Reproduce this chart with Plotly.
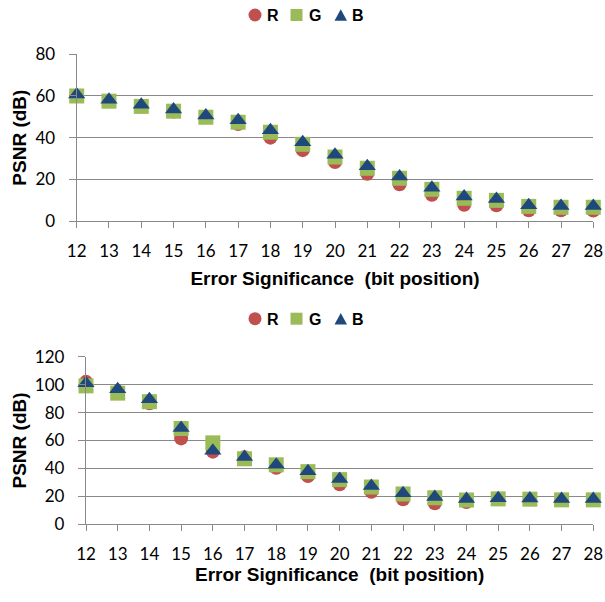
import plotly.graph_objects as go

bits = list(range(12, 29))
tick_labels = [str(b) for b in bits]

# Top chart PSNR (dB)
top_R = [60, 57.5, 55, 52.5, 49.8, 46.5, 40, 34, 28.3, 22.7, 17.6, 12.6, 7.8, 7.5, 5.1, 5.1, 5.0]
top_G = [60, 57.5, 55, 52.7, 49.8, 47.4, 42.6, 36.8, 30.7, 25.3, 20.5, 15.2, 10.9, 9.9, 7.0, 6.6, 6.6]
top_B = [60.7, 58.2, 55.8, 53.5, 50.6, 48.3, 43.6, 37.8, 31.8, 26.3, 21.3, 16.0, 11.8, 10.6, 7.6, 7.2, 7.2]

# Bottom chart PSNR (dB)
bot_R = [102, 95, 86.6, 61.5, 52, 48, 40.5, 34.6, 28.6, 23.3, 17.9, 15, 16, 18, 18, 17.5, 17.5]
bot_G = [99.1, 93.9, 87.8, 68.6, 58.3, 46.9, 42.6, 37.7, 32, 26.7, 21.7, 19.0, 17.4, 18.2, 18, 17.5, 17.5]
bot_B = [101, 96.7, 89.5, 69, 52.7, 48.2, 42.7, 38, 32.5, 27.5, 22.3, 19.6, 18.2, 18.6, 18.4, 18.2, 18.2]

series_names = ["R", "G", "B"]
colors = {"R": "#C0504D", "G": "#9BBB59", "B": "#1F497D"}
symbols = {"R": "circle", "G": "square", "B": "triangle-up"}
sizes = {"R": 14, "G": 15, "B": 15}

x_title = "Error Significance\u00a0\u00a0(bit position)"
y_title = "PSNR (dB)"

W, H = 605, 602
fig = go.Figure()

def add_series(vals, xa, ya):
    for name, v in zip(series_names, vals):
        fig.add_trace(go.Scatter(
            x=bits, y=v, mode="markers", name=name, showlegend=False,
            marker=dict(symbol=symbols[name], color=colors[name], size=sizes[name], line=dict(width=0)),
            xaxis=xa, yaxis=ya, cliponaxis=False,
        ))

add_series([top_R, top_G, top_B], "x", "y")
add_series([bot_R, bot_G, bot_B], "x2", "y2")

grid = "#898989"
tickfont = dict(family="Lato, Carlito, Liberation Sans", size=17, color="#000000")
titlefont = dict(family="Liberation Sans, Arial", size=19, color="#000000", weight="bold")

def xaxis(domain, anchor, standoff):
    return dict(domain=domain, anchor=anchor, range=[12, 28], tickmode="array",
                tickvals=bits, ticktext=tick_labels, showgrid=False, zeroline=False,
                showline=True, linecolor=grid, linewidth=1.3, ticks="outside", ticklen=6,
                tickcolor=grid, tickwidth=1.3, tickfont=tickfont, automargin=False,
                ticklabelstandoff=8,
                title=dict(text=x_title, font=titlefont, standoff=standoff))

def yaxis(domain, anchor, rng, dtick):
    return dict(domain=domain, anchor=anchor, range=rng, dtick=dtick, showgrid=True,
                gridcolor=grid, gridwidth=1.3, zeroline=False, showline=True,
                linecolor=grid, linewidth=1.3, ticks="outside", ticklen=7, tickcolor=grid,
                tickwidth=1.3, tickfont=tickfont, automargin=False, ticklabelstandoff=10,
                title=dict(text=y_title, font=titlefont, standoff=3))

fig.update_layout(
    width=W, height=H, margin=dict(l=0, r=0, t=0, b=0),
    paper_bgcolor="white", plot_bgcolor="white", showlegend=False,
    xaxis=xaxis([76.7 / W, 593.3 / W], "y", 12),
    yaxis=yaxis([(H - 221) / H, (H - 54.3) / H], "x", [0, 80], 20),
    xaxis2=xaxis([86 / W, 593.3 / W], "y2", 0),
    yaxis2=yaxis([(H - 524.3) / H, (H - 356.7) / H], "x2", [0, 120], 20),
)

def px_x(v):
    return v / W

def px_y(v):
    return 1 - v / H

# Legend keys (one row above each chart)
legend_font = dict(family="Liberation Sans, Arial", size=16, color="#000000", weight="bold")
for cy in (15, 318.7):
    fig.add_shape(type="circle", xref="paper", yref="paper",
                  x0=px_x(248.5), x1=px_x(261.5), y0=px_y(cy + 6.5), y1=px_y(cy - 6.5),
                  fillcolor=colors["R"], line=dict(width=0))
    fig.add_shape(type="rect", xref="paper", yref="paper",
                  x0=px_x(290.5), x1=px_x(302.5), y0=px_y(cy + 6), y1=px_y(cy - 6),
                  fillcolor=colors["G"], line=dict(width=0))
    x0, x1, xm = px_x(334.5), px_x(347), px_x(340.75)
    yb, yt = px_y(cy + 5.8), px_y(cy - 5.8)
    fig.add_shape(type="path", xref="paper", yref="paper",
                  path=f"M {x0},{yb} L {x1},{yb} L {xm},{yt} Z",
                  fillcolor=colors["B"], line=dict(width=0))
    for name, lx in (("R", 265), ("G", 306.5), ("B", 350)):
        fig.add_annotation(text=name, xref="paper", yref="paper", x=px_x(lx), y=px_y(cy + 1),
                           xanchor="left", yanchor="middle", showarrow=False, font=legend_font)

fig.write_html("out.html")
